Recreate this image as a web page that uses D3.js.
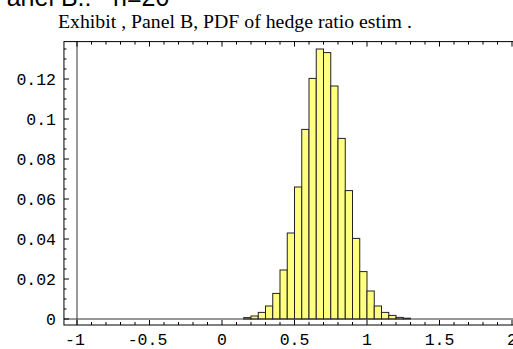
<!DOCTYPE html>
<html>
<head>
<meta charset="utf-8">
<script src="https://cdn.jsdelivr.net/npm/d3@7"></script>
<style>
  body { margin: 0; background: #fff; }
  svg { display: block; }
</style>
</head>
<body>
<div id="chart"></div>
<script>
// histogram bins (left edge) and their density heights
const binStarts = [0.15, 0.2, 0.25, 0.3, 0.35, 0.4, 0.45, 0.5, 0.55, 0.6, 0.65, 0.7,
  0.75, 0.8, 0.85, 0.9, 0.95, 1.0, 1.05, 1.1, 1.15, 1.2, 1.25];
const density = [0.0007, 0.0015, 0.0033, 0.0065, 0.0128, 0.0245, 0.043, 0.066, 0.0948,
  0.1203, 0.135, 0.1332, 0.1165, 0.0903, 0.0642, 0.0403, 0.0237, 0.014, 0.0065,
  0.0033, 0.0018, 0.0008, 0.0004];
const binWidth = 0.05;

// tick labels
const xTicks = [-1, -0.5, 0, 0.5, 1, 1.5, 2];
const yTicks = [0, 0.02, 0.04, 0.06, 0.08, 0.1, 0.12];

const width = 513, height = 349;

const svg = d3.select('#chart')
  .append('svg')
  .attr('width', width)
  .attr('height', height);

// scales
const x = d3.scaleLinear().domain([-1, 2]).range([77, 512]);
const y = d3.scaleLinear().domain([0, 0.12]).range([319, 79]);

// frame extent in data units (plot range with padding)
const fx0 = -1.09, fx1 = 2.09;
const fy0 = -0.003, fy1 = 0.1387;

// headings (the top one is cut by the page edge, as in the original)
svg.append('text')
  .attr('x', -10)
  .attr('y', 6)
  .style('font-family', 'Arial, "Liberation Sans", sans-serif')
  .style('font-size', '25px')
  .text('Panel B.:');
svg.append('text')
  .attr('x', 113)
  .attr('y', 6)
  .style('font-family', 'Arial, "Liberation Sans", sans-serif')
  .style('font-size', '25px')
  .text('n=20');

svg.append('text')
  .attr('x', 58)
  .attr('y', 28)
  .style('font-family', '"Liberation Serif", "Times New Roman", serif')
  .style('font-size', '19.8px')
  .text('Exhibit , Panel B, PDF of hedge ratio estim .');

// bars
svg.append('g')
  .selectAll('rect')
  .data(binStarts)
  .enter()
  .append('rect')
  .attr('x', d => x(d))
  .attr('width', d => x(d + binWidth) - x(d))
  .attr('y', (d, i) => y(density[i]))
  .attr('height', (d, i) => y(0) - y(density[i]))
  .attr('fill', '#ffff80')
  .attr('stroke', '#222')
  .attr('stroke-width', 1);

// axes lines through (-1, 0)
svg.append('line')
  .attr('x1', x(fx0)).attr('x2', x(fx1))
  .attr('y1', y(0)).attr('y2', y(0))
  .attr('stroke', '#333');
svg.append('line')
  .attr('x1', x(-1)).attr('x2', x(-1))
  .attr('y1', y(fy0)).attr('y2', y(fy1))
  .attr('stroke', '#333');

// frame
svg.append('rect')
  .attr('x', x(fx0))
  .attr('y', y(fy1))
  .attr('width', x(fx1) - x(fx0))
  .attr('height', y(fy0) - y(fy1))
  .attr('fill', 'none')
  .attr('stroke', '#000');

// frame ticks, pointing inwards
const xMinor = d3.range(-10, 21).map(v => v / 10);
const yMinor = d3.range(0, 28).map(v => v * 0.005);
const isMajor = (v, step) => Math.abs(v / step - Math.round(v / step)) < 1e-6;

const ticks = svg.append('g').attr('stroke', '#000');
xMinor.forEach(v => {
  const len = isMajor(v, 0.5) ? 5 : 3;
  ticks.append('line')
    .attr('x1', x(v)).attr('x2', x(v))
    .attr('y1', y(fy0)).attr('y2', y(fy0) - len);
  ticks.append('line')
    .attr('x1', x(v)).attr('x2', x(v))
    .attr('y1', y(fy1)).attr('y2', y(fy1) + len);
});
yMinor.forEach(v => {
  const len = isMajor(v, 0.02) ? 5 : 2.5;
  ticks.append('line')
    .attr('x1', x(fx0)).attr('x2', x(fx0) + len)
    .attr('y1', y(v)).attr('y2', y(v));
});

// tick labels
const mono = '"Liberation Mono", "Courier New", monospace';
svg.append('g')
  .selectAll('text')
  .data(xTicks)
  .enter()
  .append('text')
  .attr('x', d => x(d) - (d < 0 ? 2 : 0))
  .attr('y', 345)
  .attr('text-anchor', 'middle')
  .style('font-family', mono)
  .style('font-size', '16.5px')
  .text(d => d);

svg.append('g')
  .selectAll('text')
  .data(yTicks)
  .enter()
  .append('text')
  .attr('x', 56)
  .attr('y', d => y(d))
  .attr('dy', '0.35em')
  .attr('text-anchor', 'end')
  .style('font-family', mono)
  .style('font-size', '16.5px')
  .text(d => d);
</script>
</body>
</html>
